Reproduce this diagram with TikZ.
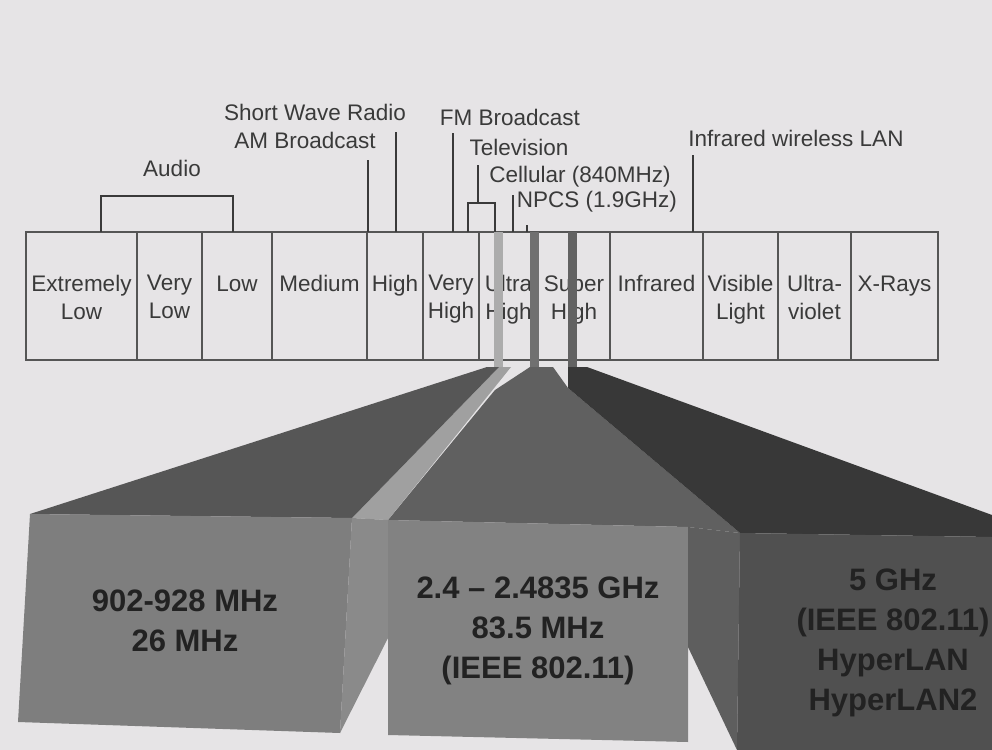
\documentclass[tikz,border=0pt]{standalone}
\usepackage{fontspec}
\setmainfont{Liberation Sans}
\usetikzlibrary{positioning}

\definecolor{page}{RGB}{230,228,230}
\definecolor{ink}{RGB}{58,58,58}
\definecolor{rule}{RGB}{85,85,85}
\definecolor{deep}{RGB}{34,34,34}
\definecolor{stripa}{RGB}{172,172,172}
\definecolor{stripb}{RGB}{112,112,112}
\definecolor{stripc}{RGB}{98,98,98}
\definecolor{lefttop}{RGB}{86,86,86}
\definecolor{leftfront}{RGB}{126,126,126}
\definecolor{lightside}{RGB}{160,160,160}
\definecolor{lowside}{RGB}{138,138,138}
\definecolor{midtop}{RGB}{96,96,96}
\definecolor{midfront}{RGB}{130,130,130}
\definecolor{midside}{RGB}{94,94,94}
\definecolor{righttop}{RGB}{56,56,56}
\definecolor{rightfront}{RGB}{80,80,80}

\begin{document}
\begin{tikzpicture}[
  x=0.5pt, y=-0.5pt,
  lbl/.style     ={inner sep=0pt, text=ink, font=\fontsize{11.25}{14}\selectfont},
  celltxt/.style ={lbl, anchor=north, align=center, execute at begin node={\vphantom{Ld}}},
  cell/.style    ={draw=rule, line width=0.7pt, minimum height=64pt, inner sep=0pt, outer sep=0pt},
  lead/.style    ={draw=ink, line width=1pt},
  freq/.style    ={inner sep=0pt, align=center, text=deep, font=\bfseries\fontsize{15.5}{20}\selectfont}
]

% ---- page ----
\fill[page] (0,0) rectangle (992,750);

% ---- beams below the band ----
\fill[midtop]     (530,367) -- (553,367) -- (568,388) -- (740,533) -- (688,527) -- (388,520) -- (495,390) -- cycle;
\fill[lightside]  (499,367) -- (511,367) -- (388,520) -- (352,518) -- cycle;
\fill[lefttop]    (487,367) -- (499,367) -- (352,518) -- (30,514) -- cycle;
\fill[leftfront]  (30,514) -- (352,518) -- (340,733) -- (18,722) -- cycle;
\fill[lowside]    (352,518) -- (388,520) -- (388,638) -- (340,733) -- cycle;
\fill[midfront]   (388,520) -- (688,527) -- (688,742) -- (388,735) -- cycle;
\fill[righttop]   (568,367) -- (587,367) -- (992,515) -- (992,537) -- (740,533) -- (568,388) -- cycle;
\fill[midside]    (688,527) -- (740,533) -- (737,750) -- (688,647) -- cycle;
\fill[rightfront] (740,533) -- (992,537) -- (992,750) -- (737,750) -- cycle;

\node[freq] (ism)  at (185,621) {902-928 MHz\\26 MHz};
\node[freq] (wifi) at (538,631) {2.4 -- 2.4835 GHz\\83.5 MHz\\(IEEE 802.11)};
\node[freq] (unii) at (893,643) {5 GHz\\(IEEE 802.11)\\HyperLAN\\HyperLAN2};

% ---- spectrum band ----
\node[cell, minimum width=55.5pt, anchor=north west] (elf) at (26,232) {};
\node[cell, minimum width=32.5pt, right=0pt of elf] (vlf) {};
\node[cell, minimum width=35pt,   right=0pt of vlf] (lf)  {};
\node[cell, minimum width=47.5pt, right=0pt of lf]  (mf)  {};
\node[cell, minimum width=28pt,   right=0pt of mf]  (hf)  {};
\node[cell, minimum width=28pt,   right=0pt of hf]  (vhf) {};
\node[cell, minimum width=29.5pt, right=0pt of vhf] (uhf) {};
\node[cell, minimum width=36pt,   right=0pt of uhf] (shf) {};
\node[cell, minimum width=46.5pt, right=0pt of shf] (ir)  {};
\node[cell, minimum width=37.5pt, right=0pt of ir]  (vis) {};
\node[cell, minimum width=36.5pt, right=0pt of vis] (uv)  {};
\node[cell, minimum width=43.5pt, right=0pt of uv]  (xr)  {};

\node[celltxt, below=21.5pt of elf.north] {Extremely\\Low};
\node[celltxt, below=21.5pt of vlf.north] {Very\\Low};
\node[celltxt, below=21.5pt of lf.north]  {Low};
\node[celltxt, below=21.5pt of mf.north]  {Medium};
\node[celltxt, below=21.5pt of hf.north]  {High};
\node[celltxt, below=21.5pt of vhf.north] {Very\\High};
\node[celltxt, below=21.5pt of uhf.north] {Ultra\\High};
\node[celltxt, below=21.5pt of shf.north] {Super\\High};
\node[celltxt, below=21.5pt of ir.north]  {Infrared};
\node[celltxt, below=21.5pt of vis.north] {Visible\\Light};
\node[celltxt, below=21.5pt of uv.north]  {Ultra-\\violet};
\node[celltxt, below=21.5pt of xr.north]  {X-Rays};

% band slices feeding the beams
\fill[stripa] (494,232) rectangle (503,367);
\fill[stripb] (530,232) rectangle (539,367);
\fill[stripc] (568,232) rectangle (577,367);

% ---- services above the band ----
\node[lbl] (audio) at (172,168) {Audio};
\node[lbl] (am)    at (305,140) {AM Broadcast};
\node[lbl] (swr)   at (315,112) {Short Wave Radio};
\node[lbl] (fm)    at (510,117) {FM Broadcast};
\node[lbl] (tv)    at (519,147) {Television};
\node[lbl] (cell)  at (580,177) {Cellular (840MHz)};
\node[lbl] (npcs)  at (597,202) {NPCS (1.9GHz)};
\node[lbl] (irlan) at (796,138) {Infrared wireless LAN};

\coordinate (audl)   at (101,196);
\coordinate (audr)   at (233,196);
\coordinate (amtip)  at (368,160);
\coordinate (swtip)  at (396,132);
\coordinate (fmtip)  at (453,133);
\coordinate (tvtip)  at (478,165);
\coordinate (tvl)    at (468,203);
\coordinate (tvr)    at (495,203);
\coordinate (celtip) at (513,195);
\coordinate (pcstip) at (527,225);
\coordinate (irtip)  at (693,155);

\draw[lead] (audl |- elf.north) -- (audl) -- (audr) -- (audr |- lf.north);
\draw[lead] (amtip) -- (amtip |- hf.north);
\draw[lead] (swtip) -- (swtip |- hf.north);
\draw[lead] (fmtip) -- (fmtip |- vhf.north);
\draw[lead] (tvtip) -- (tvtip |- tvl);
\draw[lead] (tvl |- vhf.north) -- (tvl) -- (tvr) -- (tvr |- uhf.north);
\draw[lead] (celtip) -- (celtip |- uhf.north);
\draw[lead] (pcstip) -- (pcstip |- uhf.north);
\draw[lead] (irtip) -- (irtip |- vis.north);

\end{tikzpicture}
\end{document}
